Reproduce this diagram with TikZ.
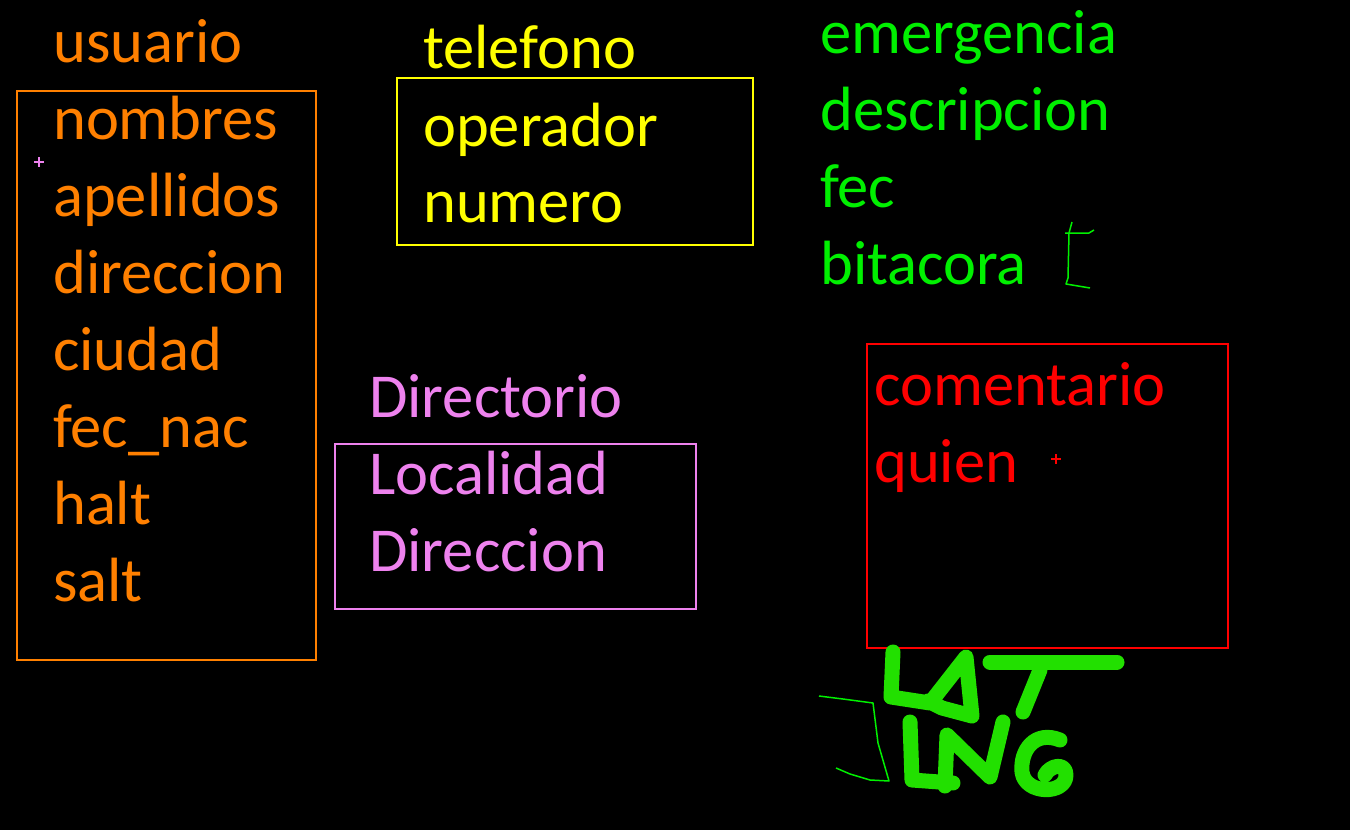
\documentclass[tikz,border=0pt]{standalone}
\usepackage{fontspec}
\setmainfont{Carlito}
\definecolor{corange}{RGB}{255,128,0}
\definecolor{cyellow}{RGB}{255,255,0}
\definecolor{cgreen}{RGB}{0,240,0}
\definecolor{cviolet}{RGB}{238,130,238}
\definecolor{cred}{RGB}{255,0,0}
\definecolor{cmarker}{RGB}{34,224,0}
\begin{document}
\begin{tikzpicture}[x=1pt,y=-1pt,
  lbl/.style={anchor=base west,inner sep=0pt,font=\fontsize{62.5}{62.5}\selectfont},
  frame/.style={line width=1.6pt},
  marker/.style={cmarker,line width=15pt,line cap=round,line join=round},
  thin/.style={cgreen,line width=1.5pt,line join=round},
  plus/.style={line width=2pt}]
\fill[black] (0,0) rectangle (1350,830);
\useasboundingbox (0,0) rectangle (1350,830);
% usuario
\draw[frame,corange] (17,91) rectangle (316,660);
\node[lbl,corange] (u0) at (53,62) {usuario};
\node[lbl,corange] (u1) at (53,139) {nombres};
\node[lbl,corange] (u2) at (53,216) {apellidos};
\node[lbl,corange] (u3) at (53,293) {direccion};
\node[lbl,corange] (u4) at (53,370) {ciudad};
\node[lbl,corange] (u5) at (53,447) {fec\_nac};
\node[lbl,corange] (u6) at (53,524) {halt};
\node[lbl,corange] (u7) at (53,601) {salt};
\draw[plus,cviolet] (34,162) -- (44,162) (39,157) -- (39,167);
% telefono
\draw[frame,cyellow] (397,78) rectangle (753,245);
\node[lbl,cyellow] (t0) at (423,68) {telefono};
\node[lbl,cyellow] (t1) at (423,146) {operador};
\node[lbl,cyellow] (t2) at (423,222) {numero};
% emergencia
\node[lbl,cgreen] (e0) at (820,53) {emergencia};
\node[lbl,cgreen] (e1) at (820,130) {descripcion};
\node[lbl,cgreen] (e2) at (820,207) {fec};
\node[lbl,cgreen] (e3) at (820,284) {bitacora};
\draw[thin] (1072,222) -- (1069,233) -- (1068,278) -- (1066,284) -- (1090,288);
\draw[thin] (1065,233) -- (1089,233) -- (1094,230);
% Directorio
\draw[frame,cviolet] (335,444) rectangle (696,609);
\node[lbl,cviolet] (d0) at (369,417) {Directorio};
\node[lbl,cviolet] (d1) at (369,494) {Localidad};
\node[lbl,cviolet] (d2) at (369,571) {Direccion};
% comentario
\draw[frame,cred] (867,344) rectangle (1228,648);
\node[lbl,cred] (c0) at (874,405) {comentario};
\node[lbl,cred] (c1) at (874,482) {quien};
\draw[plus,cred] (1051,459) -- (1061,459) (1056,454) -- (1056,464);
% LAT LNG
\draw[thin] (819,696) -- (843,699) -- (873,703) -- (878,743) -- (889,781) -- (870,780) -- (850,774) -- (836,768);
\draw[marker] (893,652) -- (891,697) -- (930,703) -- (966,657) -- (972,716) -- (942,708) -- (928,701);
\draw[marker] (990,662) -- (1117,662);
\draw[marker] (1040,670) -- (1023,712);
\draw[marker] (910,722) -- (912,780) -- (953,783);
\draw[marker] (945,786) -- (947,735) -- (990,777) -- (1003,722);
\draw[marker] (1060,740) .. controls (1035,730) and (1020,750) .. (1022,772)
  .. controls (1025,795) and (1066,795) .. (1066,775)
  .. controls (1066,762) and (1050,765) .. (1045,775);
\end{tikzpicture}
\end{document}
